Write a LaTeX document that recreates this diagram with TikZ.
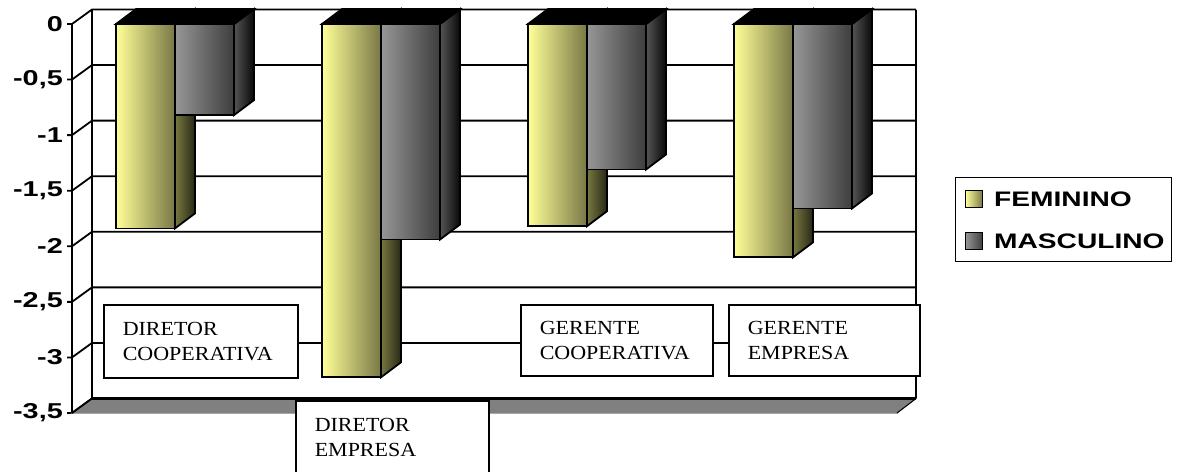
\documentclass[tikz,border=0pt]{standalone}
\usepackage{fontspec}
\setmainfont{Liberation Serif}
\setsansfont{Liberation Sans}
\usetikzlibrary{positioning}
\definecolor{femlight}{RGB}{255,255,153}
\definecolor{femdark}{RGB}{120,120,70}
\definecolor{femside}{RGB}{120,120,66}
\definecolor{femsidedark}{RGB}{40,40,22}
\definecolor{masclight}{RGB}{150,150,150}
\definecolor{mascdark}{RGB}{62,62,62}
\definecolor{mascside}{RGB}{85,85,85}
\definecolor{mascsidedark}{RGB}{8,8,8}
\definecolor{floorgray}{RGB}{128,128,128}
\newcommand{\widetext}[1]{\scalebox{1.34}[1]{#1}}
\newcommand{\catline}[1]{\scalebox{1.1}[1]{#1}}
\newcommand{\colbar}[6]{%
  \shadedraw[left color=#3,right color=#4,line width=1.8pt] (#1,24) rectangle (#1+59,#2);
  \shadedraw[left color=#5,right color=#6,line width=1.8pt] (#1+59,24) -- (#1+79,9) -- (#1+79,#2-15) -- (#1+59,#2) -- cycle;
  \filldraw[line width=1.8pt] (#1,24) -- (#1+20,9) -- (#1+79,9) -- (#1+59,24) -- cycle;
}
\begin{document}
\begin{tikzpicture}[x=1pt,y=-1pt,
  grid/.style={line width=1.8pt},
  ticklabel/.style={anchor=east,inner sep=0pt,font=\sffamily\bfseries\fontsize{21.5}{21.5}\selectfont},
  catbox/.style={draw,fill=white,line width=1.5pt,anchor=north west,text width=#1,align=left,
    inner xsep=19pt,minimum height=73pt,font=\fontsize{20}{25}\selectfont},
  keybox/.style={draw,line width=1pt,minimum size=17pt,inner sep=0pt,anchor=north west},
  keytext/.style={inner sep=0pt,font=\sffamily\bfseries\fontsize{21}{21}\selectfont}
]
\useasboundingbox (0,0) rectangle (1177,471);

% walls and value axis
\foreach \lab [count=\i from 0] in {0,{-0,5},-1,{-1,5},-2,{-2,5},-3,{-3,5}}{
  \pgfmathsetmacro{\yf}{24+55.57*\i}
  \pgfmathsetmacro{\yb}{\yf-14.5}
  \draw[grid] (67,\yf) -- (72,\yf) -- (92,\yb) -- (916,\yb);
  \node[ticklabel] (tick\i) at (63,\yf) {\widetext{\lab}};
}
\draw[grid] (72,24) -- (72,413);
\draw[grid] (92,9.5) -- (92,398.5);
\draw[grid] (916,9.5) -- (916,398.5);

% bars
\foreach \bx/\fv/\mv in {116/-1.84/-0.82, 322/-3.18/-1.94, 528/-1.82/-1.31, 734/-2.10/-1.66}{
  \pgfmathsetmacro{\fy}{24-111.1*\fv}
  \pgfmathsetmacro{\my}{24-111.1*\mv}
  \colbar{\bx}{\fy}{femlight}{femdark}{femside}{femsidedark}
  \colbar{\bx+59}{\my}{masclight}{mascdark}{mascside}{mascsidedark}
}

% floor
\filldraw[fill=floorgray,draw=floorgray,line width=1pt] (72,413) -- (897,413) -- (916,398.5) -- (92,398.5) -- cycle;
\draw[line width=1pt] (897,413) -- (916,398.5);
\draw[line width=3pt] (92,398.5) -- (916,398.5);
\draw[grid] (72,413) -- (92,398.5);

% categories
\node[catbox=156pt] (dircoop) at (103,304) {\catline{DIRETOR}\\\catline{COOPERATIVA}};
\node[catbox=155pt] (diremp) at (295,400) {\catline{DIRETOR}\\\catline{EMPRESA}};
\node[catbox=154pt,minimum height=71pt] (gercoop) at (520,304) {\catline{GERENTE}\\\catline{COOPERATIVA}};
\node[catbox=153pt,minimum height=71pt] (geremp) at (728,304) {\catline{GERENTE}\\\catline{EMPRESA}};

% legend
\node[draw,line width=1.2pt,minimum width=216pt,minimum height=84pt,anchor=north west] (legend) at (955,177) {};
\node[keybox,left color=femlight,right color=femdark] (femkey) at (965,190) {};
\node[keybox,left color=masclight,right color=mascdark] (masckey) at (965,232) {};
\node[keytext,right=11pt of femkey] (femtext) {\widetext{FEMININO}};
\node[keytext,right=11pt of masckey] (masctext) {\widetext{MASCULINO}};
\end{tikzpicture}
\end{document}
